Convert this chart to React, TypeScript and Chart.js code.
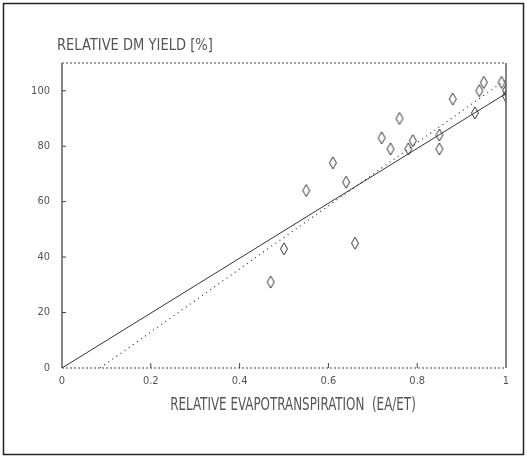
import React, { useEffect, useRef } from "react";
import { Chart, registerables } from "chart.js";

Chart.register(...registerables);

const etRatio = [0.47, 0.5, 0.55, 0.61, 0.64, 0.66, 0.72, 0.74, 0.76, 0.78, 0.79, 0.85, 0.85, 0.88, 0.93, 0.94, 0.95, 0.99, 1.0, 1.0];
const yieldPct = [31, 43, 64, 74, 67, 45, 83, 79, 90, 79, 82, 79, 84, 97, 92, 100, 103, 103, 100, 98];

const solidFitX = [0, 1];
const solidFitY = [0, 99];
const dottedFitX = [0.086, 1];
const dottedFitY = [0, 104];

const xTickValues = [0, 0.2, 0.4, 0.6, 0.8, 1];
const xTickLabels = ["0", "0.2", "0.4", "0.6", "0.8", "1"];
const yTickValues = [0, 20, 40, 60, 80, 100];

const yTitle = "RELATIVE DM YIELD [%]";
const xTitle = "RELATIVE EVAPOTRANSPIRATION  (EA/ET)";

const FONT = "'Liberation Sans Narrow', 'DejaVu Sans Condensed', sans-serif";
const INK = "#333";
const TEXT = "#555";

function makeDiamond(): HTMLCanvasElement {
  const c = document.createElement("canvas");
  c.width = 10;
  c.height = 14;
  const g = c.getContext("2d")!;
  g.strokeStyle = "#333";
  g.lineWidth = 1;
  g.beginPath();
  g.moveTo(5, 1);
  g.lineTo(8.5, 7);
  g.lineTo(5, 13);
  g.lineTo(1.5, 7);
  g.closePath();
  g.stroke();
  return c;
}

const framePlugin = {
  id: "frame",
  beforeDraw(chart: any) {
    const ctx = chart.ctx;
    ctx.save();
    ctx.fillStyle = "#fff";
    ctx.fillRect(0, 0, chart.width, chart.height);
    ctx.strokeStyle = "#222";
    ctx.lineWidth = 1.5;
    ctx.strokeRect(3.5, 3.5, chart.width - 7, chart.height - 7);
    ctx.restore();
  },
  afterDraw(chart: any) {
    const ctx = chart.ctx;
    const { left, right, top, bottom } = chart.chartArea;
    const xs = chart.scales.x;
    const ys = chart.scales.y;
    ctx.save();
    ctx.strokeStyle = "#444";
    ctx.lineWidth = 1.3;
    ctx.beginPath();
    ctx.moveTo(left, top);
    ctx.lineTo(left, bottom);
    ctx.moveTo(right, top);
    ctx.lineTo(right, bottom);
    ctx.stroke();
    ctx.setLineDash([2, 2]);
    ctx.lineWidth = 1;
    ctx.beginPath();
    ctx.moveTo(left, top);
    ctx.lineTo(right, top);
    ctx.moveTo(left, bottom);
    ctx.lineTo(right, bottom);
    ctx.stroke();
    ctx.setLineDash([]);
    ctx.beginPath();
    yTickValues.forEach((v) => {
      if (v === 0) return;
      const py = ys.getPixelForValue(v);
      ctx.moveTo(left, py);
      ctx.lineTo(left + 4, py);
    });
    xTickValues.forEach((v) => {
      if (v === 0 || v === 1) return;
      const px = xs.getPixelForValue(v);
      ctx.moveTo(px, bottom);
      ctx.lineTo(px, bottom - 5);
    });
    ctx.stroke();
    ctx.fillStyle = TEXT;
    ctx.textBaseline = "middle";
    ctx.font = `15px ${FONT}`;
    ctx.textAlign = "left";
    ctx.save();
    ctx.translate(left - 5, 46);
    ctx.scale(0.97, 1);
    ctx.fillText(yTitle, 0, 0);
    ctx.restore();
    ctx.font = `17px ${FONT}`;
    ctx.textAlign = "center";
    ctx.save();
    ctx.translate((left + right) / 2 + 9, bottom + 38);
    ctx.scale(0.78, 1);
    ctx.fillText(xTitle, 0, 0);
    ctx.restore();
    ctx.restore();
  },
};

export default function App() {
  const ref = useRef<HTMLCanvasElement | null>(null);
  useEffect(() => {
    document.body.style.margin = "0";
    const diamond = makeDiamond();
    const chart = new Chart(ref.current!, {
      type: "scatter",
      data: {
        datasets: [
          {
            label: "data",
            data: etRatio.map((x, i) => ({ x, y: yieldPct[i] })),
            pointStyle: diamond as any,
            pointRadius: 6,
            showLine: false,
          },
          {
            label: "fit1",
            data: solidFitX.map((x, i) => ({ x, y: solidFitY[i] })),
            showLine: true,
            borderColor: INK,
            borderWidth: 1,
            pointRadius: 0,
          },
          {
            label: "fit2",
            data: dottedFitX.map((x, i) => ({ x, y: dottedFitY[i] })),
            showLine: true,
            borderColor: INK,
            borderWidth: 1.2,
            borderDash: [1, 4],
            pointRadius: 0,
          },
        ],
      },
      options: {
        animation: false,
        responsive: false,
        layout: { padding: { left: 0, right: 21, top: 63, bottom: 0 } },
        plugins: { legend: { display: false }, tooltip: { enabled: false } },
        scales: {
          x: {
            type: "linear",
            min: 0,
            max: 1,
            grid: { display: false, drawTicks: false },
            border: { display: false },
            afterBuildTicks: (s: any) => {
              s.ticks = xTickValues.map((v) => ({ value: v }));
            },
            afterFit: (s: any) => {
              s.height = 90;
            },
            ticks: {
              padding: 7,
              color: TEXT,
              font: { family: FONT, size: 11 },
              maxRotation: 0,
              callback: (v: any) => {
                const i = xTickValues.indexOf(Number(v));
                return i >= 0 ? xTickLabels[i] : "";
              },
            },
          },
          y: {
            type: "linear",
            min: 0,
            max: 110,
            grid: { display: false, drawTicks: false },
            border: { display: false },
            afterBuildTicks: (s: any) => {
              s.ticks = yTickValues.map((v) => ({ value: v }));
            },
            afterFit: (s: any) => {
              s.width = 62;
            },
            ticks: {
              padding: 12,
              color: TEXT,
              font: { family: FONT, size: 11 },
            },
          },
        },
      },
      plugins: [framePlugin],
    });
    return () => chart.destroy();
  }, []);
  return <canvas ref={ref} width={527} height={458} style={{ display: "block" }} />;
}
